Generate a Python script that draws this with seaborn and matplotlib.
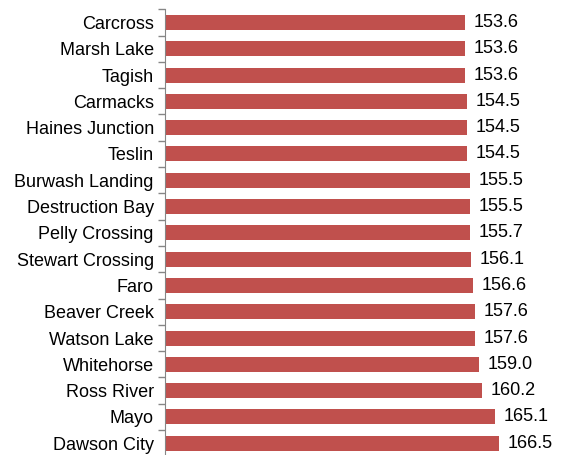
import matplotlib.pyplot as plt
import seaborn as sns
import pandas as pd

plt.rcParams['font.family'] = ['Liberation Sans', 'DejaVu Sans']

price_df = pd.DataFrame({
    'Community': ['Carcross', 'Marsh Lake', 'Tagish', 'Carmacks', 'Haines Junction', 'Teslin',
                  'Burwash Landing', 'Destruction Bay', 'Pelly Crossing', 'Stewart Crossing', 'Faro',
                  'Beaver Creek', 'Watson Lake', 'Whitehorse', 'Ross River', 'Mayo', 'Dawson City'],
    'Price': [153.6, 153.6, 153.6, 154.5, 154.5, 154.5, 155.5, 155.5, 155.7, 156.1, 156.6,
              157.6, 157.6, 159.0, 160.2, 165.1, 166.5],
})

# horizontal bars, Excel-like look
plt.figure(figsize=(5.61, 4.55), dpi=100)
ax = plt.axes([0.294, -0.003, 0.706, 0.9826])
sns.barplot(x='Price', y='Community', data=price_df, color='#C0504D', saturation=1, width=0.57, orient='h', ax=ax)
ax.bar_label(ax.containers[0], fmt='%.1f', padding=6, fontsize=13, color='black')

plt.xlim(40, 190)
ax.xaxis.set_visible(False)
ax.set_ylabel('')
for side in ['top', 'right', 'bottom']:
    ax.spines[side].set_visible(False)
ax.spines['left'].set_color('#868686')

# tick marks between categories
ax.set_yticks([i - 0.5 for i in range(len(price_df) + 1)], minor=True)
ax.tick_params(axis='y', which='major', length=0, pad=8, labelsize=13, labelcolor='black')
ax.tick_params(axis='y', which='minor', length=5, width=1, color='#868686')

plt.savefig('out.png', dpi=100)
